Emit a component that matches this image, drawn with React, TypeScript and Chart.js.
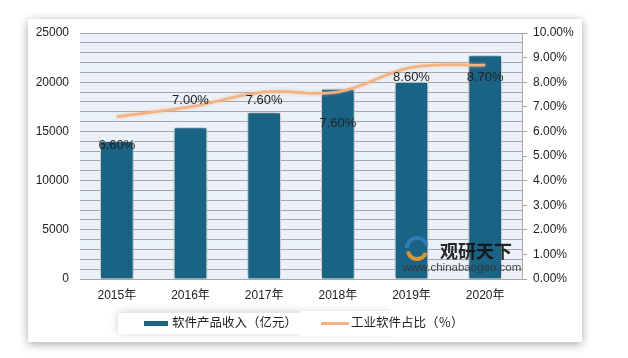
import React, { useEffect, useRef } from "react";
import { Chart, registerables } from "chart.js";

Chart.register(...registerables);

const categories = ["2015年", "2016年", "2017年", "2018年", "2019年", "2020年"];
const revenue = [14000, 15400, 16900, 19300, 20000, 22700];
const industrialShare = [6.6, 7.0, 7.6, 7.6, 8.6, 8.7];
const seriesNames = ["软件产品收入（亿元）", "工业软件占比（％）"];

// label placement (style only): vertical offset of each data label from its point
const labelOffsetY = [29, -6, 8, 31, 10, 12];

const FONT = "'Liberation Sans', 'Noto Sans CJK SC', sans-serif";
const BAR_COLOR = "#1B6384";
const LINE_COLOR = "#F4B183";
const GRID = "#A6A6A6";

const CHART_AREA = { left: 80, top: 33, right: 522, bottom: 279 };

const decorPlugin = {
  id: "decor",
  beforeDraw(chart: any) {
    const ctx = chart.ctx;
    ctx.save();
    ctx.shadowColor = "rgba(0,0,0,0.35)";
    ctx.shadowBlur = 9;
    ctx.shadowOffsetY = 2;
    ctx.fillStyle = "#ffffff";
    ctx.fillRect(28, 19, 554, 323);
    ctx.restore();
    const a = chart.chartArea;
    ctx.save();
    ctx.fillStyle = "#EAF1F8";
    ctx.fillRect(a.left, a.top, a.right - a.left, a.bottom - a.top);
    ctx.restore();
    ctx.save();
    ctx.shadowColor = "rgba(0,0,0,0.18)";
    ctx.shadowBlur = 10;
    ctx.shadowOffsetY = -1;
    ctx.fillStyle = "#ffffff";
    ctx.fillRect(118, 313, 272, 21);
    ctx.restore();
    ctx.save();
    ctx.fillStyle = "#ffffff";
    ctx.fillRect(300, 311, 200, 25);
    ctx.restore();
  },
  beforeDatasetDraw(chart: any, args: any) {
    const ctx = chart.ctx;
    ctx.save();
    if (args.meta.type === "bar") {
      ctx.shadowColor = "rgba(0,0,0,0.45)";
      ctx.shadowBlur = 7;
    } else {
      ctx.shadowColor = "rgba(244,177,131,0.8)";
      ctx.shadowBlur = 3;
    }
  },
  afterDatasetDraw(chart: any) {
    chart.ctx.restore();
  },
  afterDatasetsDraw(chart: any) {
    const ctx = chart.ctx;
    const meta = chart.getDatasetMeta(1);
    ctx.save();
    ctx.font = "13px " + FONT;
    ctx.fillStyle = "#222222";
    ctx.textAlign = "center";
    ctx.textBaseline = "middle";
    meta.data.forEach((pt: any, i: number) => {
      ctx.fillText(industrialShare[i].toFixed(2) + "%", pt.x, pt.y + labelOffsetY[i]);
    });
    ctx.restore();
  },
  afterDraw(chart: any) {
    const ctx = chart.ctx;
    ctx.save();
    ctx.fillStyle = BAR_COLOR;
    ctx.fillRect(144, 321, 24, 5);
    ctx.strokeStyle = LINE_COLOR;
    ctx.lineWidth = 3;
    ctx.beginPath();
    ctx.moveTo(321, 323.5);
    ctx.lineTo(349, 323.5);
    ctx.stroke();
    ctx.font = "12.5px " + FONT;
    ctx.fillStyle = "#222222";
    ctx.textBaseline = "middle";
    ctx.textAlign = "left";
    ctx.fillText(chart.data.datasets[0].label, 172, 324);
    ctx.fillText(chart.data.datasets[1].label, 351, 324);
    // watermark
    ctx.globalAlpha = 0.9;
    ctx.lineWidth = 4;
    ctx.strokeStyle = "#2E7FB8";
    ctx.beginPath();
    ctx.arc(417, 248, 10, Math.PI * 1.0, Math.PI * 1.9);
    ctx.stroke();
    ctx.strokeStyle = "#F09A2A";
    ctx.beginPath();
    ctx.arc(417, 250, 9, Math.PI * 0.1, Math.PI * 0.95);
    ctx.stroke();
    ctx.font = "bold 18px 'Noto Sans CJK SC', sans-serif";
    ctx.fillStyle = "#111111";
    ctx.fillText("观研天下", 440, 251);
    ctx.font = "11.5px " + FONT;
    ctx.fillStyle = "#333333";
    ctx.fillText("www.chinabaogao.com", 403, 268);
    ctx.restore();
  },
};

export default function App() {
  const ref = useRef<HTMLCanvasElement>(null);
  useEffect(() => {
    if (!ref.current) return;
    const chart = new Chart(ref.current, {
      type: "bar",
      data: {
        labels: categories,
        datasets: [
          {
            type: "bar",
            label: seriesNames[0],
            data: revenue,
            backgroundColor: BAR_COLOR,
            borderColor: "#ffffff",
            borderWidth: 1,
            barThickness: 33,
            yAxisID: "y",
            order: 2,
          },
          {
            type: "line",
            label: seriesNames[1],
            data: industrialShare,
            borderColor: LINE_COLOR,
            borderWidth: 2.5,
            pointRadius: 0,
            tension: 0.4,
            yAxisID: "y1",
            order: 1,
          } as any,
        ],
      },
      plugins: [decorPlugin],
      options: {
        responsive: false,
        animation: false,
        devicePixelRatio: 1,
        layout: { padding: { left: 0, right: 0, top: CHART_AREA.top, bottom: 358 - 305 } },
        plugins: { legend: { display: false }, tooltip: { enabled: false } },
        scales: {
          x: {
            grid: { display: false, drawTicks: false },
            border: { display: true, color: GRID },
            ticks: { color: "#222", font: { size: 12, family: FONT }, padding: 9 },
            afterFit: (s: any) => {
              s.height = 26;
            },
          },
          y: {
            position: "left",
            min: 0,
            max: 25000,
            grid: { color: GRID, drawTicks: false, lineWidth: 1 },
            border: { display: false },
            ticks: {
              stepSize: 1000,
              autoSkip: false,
              padding: 11,
              color: "#222",
              font: { size: 12, family: FONT },
              callback: (v: any) => (Number(v) % 5000 === 0 ? String(v) : ""),
            },
            afterFit: (s: any) => {
              s.width = CHART_AREA.left;
            },
          },
          y1: {
            position: "right",
            min: 0,
            max: 10,
            grid: { drawOnChartArea: false, color: GRID, tickLength: 5 },
            border: { display: true, color: GRID },
            ticks: {
              stepSize: 1,
              autoSkip: false,
              padding: 6,
              color: "#222",
              font: { size: 12, family: FONT },
              callback: (v: any) => Number(v).toFixed(2) + "%",
            },
            afterFit: (s: any) => {
              s.width = 628 - CHART_AREA.right;
            },
          },
        },
      } as any,
    });
    return () => chart.destroy();
  }, []);
  return (
    <div style={{ position: "fixed", left: 0, top: 0, width: 628, height: 358, background: "#fff" }}>
      <canvas ref={ref} width={628} height={358} style={{ display: "block" }} />
    </div>
  );
}
